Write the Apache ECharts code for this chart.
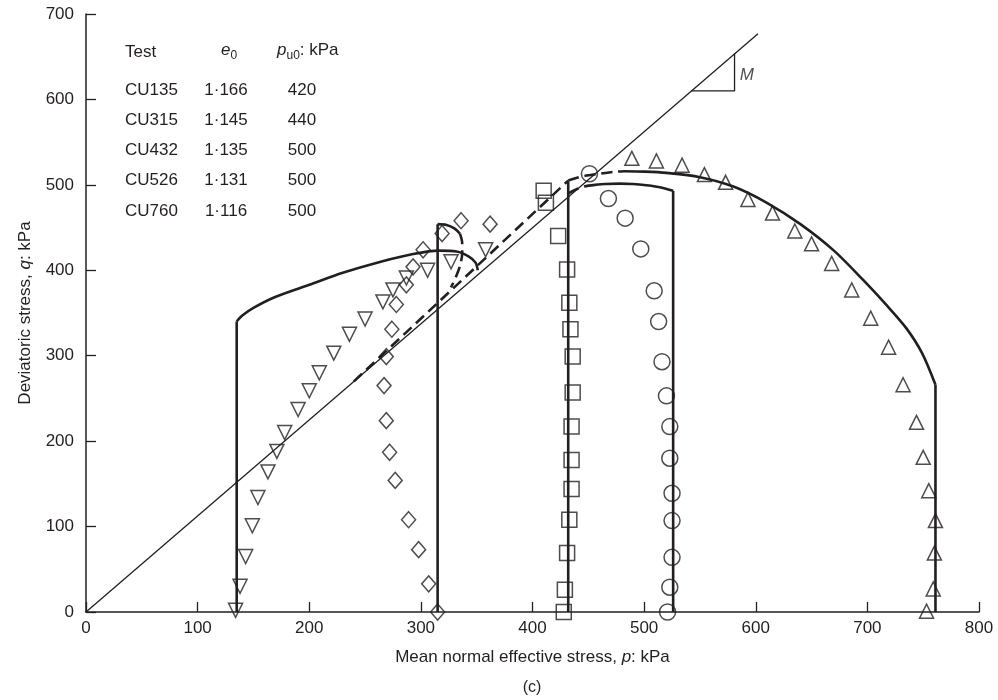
<!DOCTYPE html>
<html>
<head>
<meta charset="utf-8">
<script src="https://cdn.jsdelivr.net/npm/echarts@6/dist/echarts.min.js"></script>
<style>
html,body{margin:0;padding:0;background:#fff;}
#chart{width:998px;height:700px;}
</style>
</head>
<body>
<div id="chart"></div>
<script>
// ---- annotation table ----
const tests = ['CU135', 'CU315', 'CU432', 'CU526', 'CU760'];
const e0Values = ['1·166', '1·145', '1·135', '1·131', '1·116'];
const pu0Values = ['420', '440', '500', '500', '500'];

// ---- axis ticks ----
const xTicks = [0, 100, 200, 300, 400, 500, 600, 700, 800];
const yTicks = [0, 100, 200, 300, 400, 500, 600, 700];

// ---- measured points [p, q] ----
const cu135Pts = [[134,2],[138,30],[143,65],[149,101],[154,134],[163,164],[171,188],[178,210],[190,237],[200,259],[209,280],[222,303],[236,325],[250,343],[266,363],[275,377],[287,391],[306,400],[327,410],[358,424]];
const cu315Pts = [[315,0],[307,33],[298,73],[289,108],[277,154],[272,187],[269,224],[267,265],[269,299],[274,331],[278,360],[287,383],[293,404],[302,424],[319,443],[336,458],[362,454]];
const cu432Pts = [[428,0],[429,26],[431,69],[433,108],[435,144],[435,178],[435,217],[436,257],[436,299],[434,331],[433,362],[431,401],[423,440],[412,479],[410,493]];
const cu526Pts = [[521,0],[523,29],[525,64],[525,107],[525,139],[523,180],[523,217],[520,253],[516,293],[513,340],[509,376],[497,425],[483,461],[468,484],[451,513]];
const cu760Pts = [[753,1],[759,27],[760,69],[761,107],[755,142],[750,181],[744,222],[732,266],[719,310],[703,344],[686,377],[668,408],[650,431],[635,446],[615,467],[593,483],[573,503],[554,512],[534,523],[511,528],[489,531]];

// ---- model lines [p, q] ----
const cslLine = [[0,0],[602,677]];
const slopeMarker = [[542,610],[581,610],[581,654]];
const slopeLabel = [[592,628]];
const cu135Vert = [[135,0],[135,340]];
const cu135Arc = [[135,340],[140,347],[150,356],[170,369],[200,383],[230,397],[264,410],[293,419],[316,423],[332,422],[343,416],[349,409],[351,400]];
const cu315Vert = [[315,0],[315,454]];
const cu315Arc = [[315,454],[323,453],[330,449],[335,443]];
const cu315Dash = [[335,443],[337,432],[337,420],[335,405],[331,391],[327,380]];
const cslDash = [[240,270],[432,505]];
const cu432Vert = [[432,0],[432,504]];
const topDash = [[432,505],[445,510],[460,513],[475,515.5],[482,516]];
const cu526Vert = [[526,0],[526,493]];
const cu526Arc = [[526,493],[515,497],[502,499.5],[490,501],[478,501.5],[465,501],[456,500]];
const cu526Dash = [[456,500],[446,498],[438,494],[432,490]];
const cu760Vert = [[761,0],[761,266]];
const cu760Arc = [[761,266],[749,303],[735,332],[718,358],[696,389],[670,423],[640,454],[610,479],[580,498],[550,509],[520,514],[500,515.5],[482,516]];

const INK = '#231f20';
const FONT = '"Liberation Sans", Arial, Helvetica, sans-serif';
const FS = 17;

function solid(data, smooth, width) {
  return { type: 'line', data: data, smooth: smooth || false, symbol: 'none', silent: true,
    lineStyle: { color: INK, width: width || 2.6 }, z: 3 };
}
function dashed(data, smooth) {
  return { type: 'line', data: data, smooth: smooth || false, symbol: 'none', silent: true,
    lineStyle: { color: INK, width: 2.6, type: [11, 6] }, z: 3 };
}
function marks(data, symbol, size, rotate) {
  return { type: 'scatter', data: data, symbol: symbol, symbolSize: size, symbolRotate: rotate || 0,
    silent: true, z: 4,
    itemStyle: { color: 'rgba(255,255,255,0)', borderColor: INK, borderWidth: 1.5 } };
}

const chart = echarts.init(document.getElementById('chart'), null, { renderer: 'canvas' });

const graphics = [];
const rowY = [90, 120, 150, 180, 211];
graphics.push({ type: 'text', x: 125, y: 52, style: { text: 'Test', font: FS + 'px ' + FONT, fill: INK, textVerticalAlign: 'middle' } });
graphics.push({ type: 'text', left: 221, top: 42, style: {
  text: '{i|e}{s|0}', fill: INK,
  rich: { i: { fontStyle: 'italic', fontSize: FS, fontFamily: FONT, color: INK },
          s: { fontSize: 12, fontFamily: FONT, color: INK, padding: [10, 0, 0, 0] } } } });
graphics.push({ type: 'text', left: 277, top: 42, style: {
  text: '{i|p}{s|u0}{n|: kPa}', fill: INK,
  rich: { i: { fontStyle: 'italic', fontSize: FS, fontFamily: FONT, color: INK },
          s: { fontSize: 12, fontFamily: FONT, color: INK, padding: [10, 0, 0, 0] },
          n: { fontSize: FS, fontFamily: FONT, color: INK } } } });
for (let k = 0; k < tests.length; k++) {
  graphics.push({ type: 'text', x: 125, y: rowY[k], style: { text: tests[k], font: FS + 'px ' + FONT, fill: INK, textVerticalAlign: 'middle' } });
  graphics.push({ type: 'text', x: 226, y: rowY[k], style: { text: e0Values[k], font: FS + 'px ' + FONT, fill: INK, textAlign: 'center', textVerticalAlign: 'middle' } });
  graphics.push({ type: 'text', x: 302, y: rowY[k], style: { text: pu0Values[k], font: FS + 'px ' + FONT, fill: INK, textAlign: 'center', textVerticalAlign: 'middle' } });
}
graphics.push({ type: 'text', x: 532, y: 688, style: { text: '(c)', font: '16px ' + FONT, fill: INK, textAlign: 'center', textVerticalAlign: 'middle' } });

const option = {
  animation: false,
  backgroundColor: '#fff',
  textStyle: { fontFamily: FONT },
  grid: { left: 86, right: 19, top: 14, bottom: 88, containLabel: false },
  xAxis: {
    type: 'value', min: xTicks[0], max: xTicks[xTicks.length - 1], interval: 100,
    name: 'Mean normal effective stress, {i|p}: kPa', nameLocation: 'middle', nameGap: 37,
    nameTextStyle: { fontSize: FS, color: INK, fontFamily: FONT,
      rich: { i: { fontStyle: 'italic', fontSize: FS, color: INK, fontFamily: FONT } } },
    axisLine: { show: true, lineStyle: { color: INK, width: 1.5 } },
    axisTick: { show: true, inside: true, length: 10, lineStyle: { color: INK, width: 1.3 } },
    axisLabel: { margin: 8, fontSize: FS, color: INK, fontFamily: FONT },
    splitLine: { show: false }
  },
  yAxis: {
    type: 'value', min: yTicks[0], max: yTicks[yTicks.length - 1], interval: 100,
    name: 'Deviatoric stress, {i|q}: kPa', nameLocation: 'middle', nameGap: 52,
    nameTextStyle: { fontSize: FS, color: INK, fontFamily: FONT,
      rich: { i: { fontStyle: 'italic', fontSize: FS, color: INK, fontFamily: FONT } } },
    axisLine: { show: true, lineStyle: { color: INK, width: 1.5 } },
    axisTick: { show: true, inside: true, length: 10, lineStyle: { color: INK, width: 1.3 } },
    axisLabel: { margin: 12, fontSize: FS, color: INK, fontFamily: FONT },
    splitLine: { show: false }
  },
  graphic: graphics,
  series: [
    solid(cslLine, false, 1.3),
    solid(slopeMarker, false, 1.3),
    { type: 'scatter', data: slopeLabel, symbolSize: 0, silent: true,
      label: { show: true, position: 'inside', formatter: 'M', fontStyle: 'italic', fontSize: FS, color: INK, fontFamily: FONT } },
    solid(cu135Vert), solid(cu135Arc, 0.3),
    solid(cu315Vert), solid(cu315Arc, 0.3), dashed(cu315Dash, 0.3),
    dashed(cslDash),
    solid(cu432Vert), dashed(topDash, 0.3),
    solid(cu526Vert), solid(cu526Arc, 0.3), dashed(cu526Dash, 0.3),
    solid(cu760Vert), solid(cu760Arc, 0.3),
    marks(cu135Pts, 'triangle', 14, 180),
    marks(cu315Pts, 'diamond', [14, 16]),
    marks(cu432Pts, 'rect', 15),
    marks(cu526Pts, 'circle', 16),
    marks(cu760Pts, 'triangle', 14)
  ]
};
chart.setOption(option);
</script>
</body>
</html>
